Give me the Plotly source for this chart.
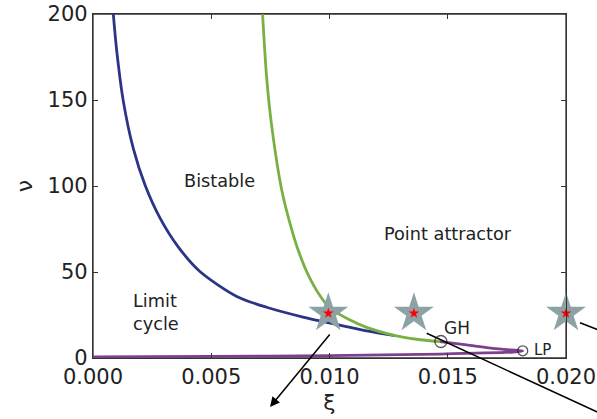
import plotly.graph_objects as go

# ---- data ----
blue_xi = [0.000858, 0.00100, 0.00128, 0.0017, 0.0022, 0.00283, 0.00361, 0.00452,
           0.00608, 0.00734, 0.00888, 0.0103, 0.01157, 0.01277]
blue_nu = [200, 179, 149.5, 122, 100.6, 81.5, 64.5, 50.3, 35.8, 29.5, 23.8, 19.5, 15.8, 13.0]

green_xi = [0.00717, 0.00734, 0.00756, 0.00798, 0.00847, 0.00875, 0.0091, 0.00953,
            0.01002, 0.01087, 0.01157, 0.01277, 0.01369, 0.01467]
green_nu = [200, 163.5, 134.5, 97.7, 71.5, 59.9, 48.3, 37.6, 28.9, 22.1, 17.8, 13.0, 10.9, 9.5]

purple_xi = [0.01467, 0.0158, 0.01691, 0.01792, 0.01817, 0.01776, 0.01467, 0.01, 0.005, 0.0]
purple_nu = [9.5, 7.6, 5.6, 4.4, 4.1, 3.5, 2.3, 1.4, 0.9, 0.6]

star_xi = [0.00995, 0.01357, 0.0200]
star_nu = [26, 26, 26]

gh_xi, gh_nu = [0.01471], [9.6]
lp_xi, lp_nu = [0.01817], [4.2]

x_ticks = [0.0, 0.005, 0.010, 0.015, 0.020]
y_ticks = [0, 50, 100, 150, 200]

FONT = "DejaVu Sans"
TXT = "#222222"
AXC = "#333333"

fig = go.Figure()
fig.add_trace(go.Scatter(x=blue_xi, y=blue_nu, mode="lines",
                         line=dict(color="#2b3487", width=2.8, shape="spline", smoothing=0.8),
                         hoverinfo="skip", showlegend=False))
fig.add_trace(go.Scatter(x=green_xi, y=green_nu, mode="lines",
                         line=dict(color="#78b043", width=2.8, shape="spline", smoothing=0.8),
                         hoverinfo="skip", showlegend=False))
fig.add_trace(go.Scatter(x=purple_xi, y=purple_nu, mode="lines",
                         line=dict(color="#7d3f8e", width=2.8, shape="spline", smoothing=0.6),
                         hoverinfo="skip", showlegend=False))
fig.add_trace(go.Scatter(x=gh_xi + lp_xi, y=gh_nu + lp_nu, mode="markers",
                         marker=dict(symbol="circle-open", size=[12, 10], color="#111111",
                                     line=dict(width=1.3, color="#111111")),
                         hoverinfo="skip", showlegend=False, cliponaxis=False))
fig.add_trace(go.Scatter(x=star_xi, y=star_nu, mode="markers",
                         marker=dict(symbol="star", size=30, color="#8da2a5", line=dict(width=0)),
                         hoverinfo="skip", showlegend=False, cliponaxis=False))
fig.add_trace(go.Scatter(x=star_xi, y=star_nu, mode="markers",
                         marker=dict(symbol="star", size=8, color="#ff0000", line=dict(width=0)),
                         hoverinfo="skip", showlegend=False, cliponaxis=False))

def txt(x, y, s, size=17.7, xanchor="center", align="center"):
    fig.add_annotation(x=x, y=y, xref="x", yref="y", text=s, showarrow=False,
                       xanchor=xanchor, yanchor="middle", align=align,
                       font=dict(family=FONT, size=size, color=TXT))

txt(0.00533, 103, "Bistable")
txt(0.01503, 72, "Point attractor")
txt(0.00162, 26.5, "Limit<br>cycle", xanchor="left", align="left")
txt(0.01475, 17.7, "GH", size=17, xanchor="left")
txt(0.01858, 4.4, "LP", size=15, xanchor="left")

# arrow pointing down-left out of the plot
fig.add_annotation(xref="paper", yref="paper", x=0.3742, y=-0.1424, ax=61, ay=-74,
                   text="", showarrow=True, arrowhead=2, arrowsize=1.3, arrowwidth=1.5,
                   arrowcolor="#000000", standoff=0, startstandoff=0)
# two plain lines leaving the frame to the lower right
fig.add_shape(type="line", xref="paper", yref="paper", x0=0.7055, y0=0.0718, x1=1.093, y1=-0.174,
              line=dict(color="#000000", width=1.5))
fig.add_shape(type="line", xref="paper", yref="paper", x0=1.0296, y0=0.1026, x1=1.093, y1=0.0683,
              line=dict(color="#000000", width=1.5))
# full frame around the plot area
fig.add_shape(type="rect", xref="paper", yref="paper", x0=0, y0=0, x1=1, y1=1,
              line=dict(color=AXC, width=1.3), layer="below")

axis_common = dict(showgrid=False, zeroline=False, showline=True, linecolor=AXC,
                   linewidth=1.3, mirror="ticks", ticks="inside", ticklen=5, tickwidth=1.2,
                   tickcolor=AXC, tickfont=dict(family=FONT, size=21, color=TXT),
                   automargin=False, ticklabeloverflow="allow")

fig.update_xaxes(range=[0, 0.020], tickvals=x_ticks, tickformat=".3f",
                 title=dict(text="ξ", font=dict(family=FONT, size=22, color=TXT), standoff=6),
                 **axis_common)
fig.update_yaxes(range=[0, 200], tickvals=y_ticks,
                 title=dict(text="ν", font=dict(family=FONT, size=22, color=TXT), standoff=8),
                 **axis_common)

fig.update_layout(width=597, height=419, autosize=False,
                  margin=dict(l=93, r=31, t=14, b=61),
                  paper_bgcolor="white", plot_bgcolor="white",
                  font=dict(family=FONT, color=TXT))

# remove the browser's default 8px page margin so the figure fills the window exactly
fig.write_html("out.html", config={"displayModeBar": False},
               post_script="document.body.style.margin='0';document.body.style.overflow='hidden';")
